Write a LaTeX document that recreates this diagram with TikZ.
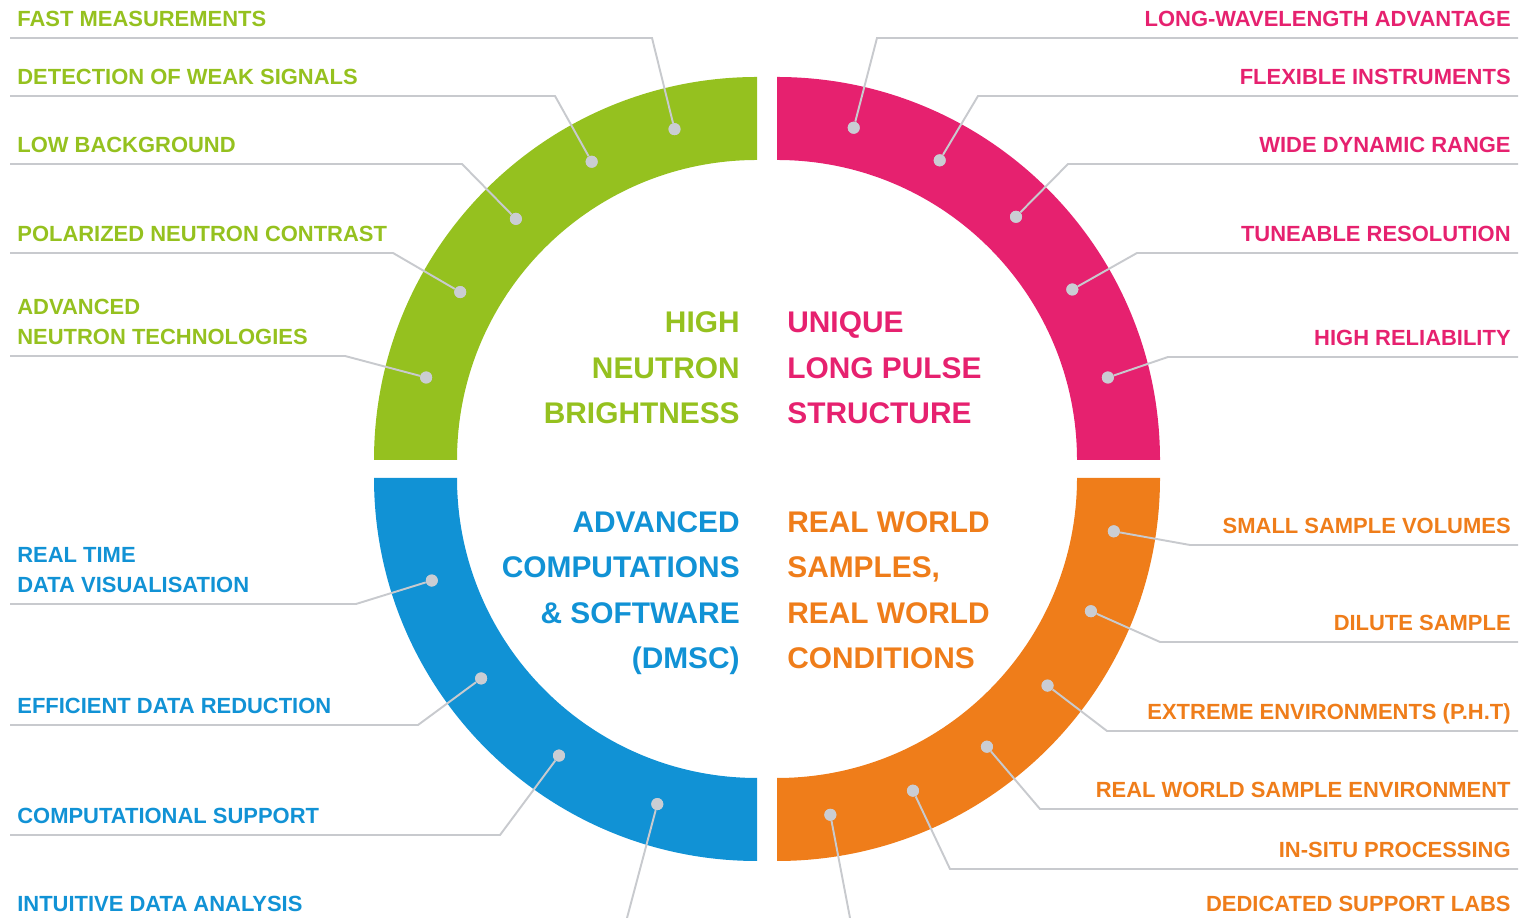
\documentclass[tikz,border=0pt]{standalone}
\usepackage{fontspec}
\setmainfont{Liberation Sans}
\usetikzlibrary{positioning,calc}
\definecolor{essgreen}{HTML}{95C11F}
\definecolor{esspink}{HTML}{E6216F}
\definecolor{essblue}{HTML}{1192D5}
\definecolor{essorange}{HTML}{EF7D1A}
\definecolor{leadgray}{HTML}{C8CACE}
\definecolor{knobgray}{HTML}{CACDD3}
\tikzset{
lbl/.style = {font=\bfseries\fontsize{12.5}{17.1}\selectfont, inner sep=0pt, text depth=0pt},
core/.style = {font=\bfseries\fontsize{17}{25.9}\selectfont, inner sep=0pt, text depth=0pt},
lead/.style = {draw=leadgray, line width=1.1pt},
knob/.style = {circle, fill=knobgray, inner sep=0pt, minimum size=0.24cm},
tmp/.style  = {coordinate}
}

\begin{document}
\begin{tikzpicture}[x=0.02cm, y=0.02cm]
  \useasboundingbox (0,0) rectangle (1520,918);
  \coordinate (cg) at (757,458);
  \coordinate (cp) at (777,458);
  \coordinate (cb) at (757,440);
  \coordinate (co) at (777,440);

  % quarter rings
  \fill [essgreen]  (374,458) arc [start angle=180, end angle=90, radius=383]
                    -- (757,758) arc [start angle=90, end angle=180, radius=300] -- cycle;
  \fill [esspink]   (777,841) arc [start angle=90, end angle=0, radius=383]
                    -- (1077,458) arc [start angle=0, end angle=90, radius=300] -- cycle;
  \fill [essblue]   (374,440) arc [start angle=180, end angle=270, radius=383]
                    -- (757,140) arc [start angle=270, end angle=180, radius=300] -- cycle;
  \fill [essorange] (777,57) arc [start angle=270, end angle=360, radius=383]
                    -- (1077,440) arc [start angle=0, end angle=-90, radius=300] -- cycle;

  % ring centre texts
  \node [core, essgreen, align=right, anchor=south east] (high) at (740,494)
        {HIGH\\NEUTRON\\BRIGHTNESS};
  \node [core, esspink, align=left, anchor=south west] (pulse) at (787,494)
        {UNIQUE\\LONG PULSE\\STRUCTURE};
  \node [core, essblue, align=right, anchor=south east] (dmsc) at (740,249)
        {ADVANCED\\COMPUTATIONS\\\& SOFTWARE\\(DMSC)};
  \node [core, essorange, align=left, anchor=south west] (world) at (787,249)
        {REAL WORLD\\SAMPLES,\\REAL WORLD\\CONDITIONS};

  % dots on the rings
  \node [knob] (dfast)      at ([shift={(104:341)}]cg)   {};
  \node [knob] (dweak)      at ([shift={(119:341)}]cg)   {};
  \node [knob] (dlowbg)     at ([shift={(135:341)}]cg)   {};
  \node [knob] (dpolar)     at ([shift={(150.5:341)}]cg) {};
  \node [knob] (dadvtech)   at ([shift={(166:341)}]cg)   {};
  \node [knob] (dlongwave)  at ([shift={(77:341)}]cp)    {};
  \node [knob] (dflexible)  at ([shift={(61.5:341)}]cp)  {};
  \node [knob] (dwidedyn)   at ([shift={(45.5:341)}]cp)  {};
  \node [knob] (dtuneable)  at ([shift={(30:341)}]cp)    {};
  \node [knob] (dreliab)    at ([shift={(14:341)}]cp)    {};
  \node [knob] (drealtime)  at ([shift={(197.5:341)}]cb) {};
  \node [knob] (deffic)     at ([shift={(216:341)}]cb)   {};
  \node [knob] (dcomput)    at ([shift={(234.5:341)}]cb) {};
  \node [knob] (dintuit)    at ([shift={(253:341)}]cb)   {};
  \node [knob] (dsmall)     at ([shift={(-9:341)}]co)    {};
  \node [knob] (ddilute)    at ([shift={(-23:341)}]co)   {};
  \node [knob] (dextreme)   at ([shift={(-37.5:341)}]co) {};
  \node [knob] (drealenv)   at ([shift={(-52:341)}]co)   {};
  \node [knob] (dinsitu)    at ([shift={(-66.5:341)}]co) {};
  \node [knob] (ddedic)     at ([shift={(-81:341)}]co)   {};

  % leader ends and bends
  \coordinate (efast) at (10,880);     \coordinate (bfast) at (652,880);
  \coordinate (eweak) at (10,822);     \coordinate (bweak) at (555,822);
  \coordinate (elowbg) at (10,754);    \coordinate (blowbg) at (462,754);
  \coordinate (epolar) at (10,665);    \coordinate (bpolar) at (393,665);
  \coordinate (eadvtech) at (10,562);  \coordinate (badvtech) at (345,562);
  \coordinate (elongwave) at (1518,880); \coordinate (blongwave) at (877,880);
  \coordinate (eflexible) at (1518,822); \coordinate (bflexible) at (978,822);
  \coordinate (ewidedyn) at (1518,754);  \coordinate (bwidedyn) at (1068,754);
  \coordinate (etuneable) at (1518,665); \coordinate (btuneable) at (1137,665);
  \coordinate (ereliab) at (1518,561);   \coordinate (breliab) at (1168,561);
  \coordinate (erealtime) at (10,314); \coordinate (brealtime) at (356,314);
  \coordinate (eeffic) at (10,193);    \coordinate (beffic) at (418,193);
  \coordinate (ecomput) at (10,83);    \coordinate (bcomput) at (500,83);
  \coordinate (eintuit) at (627,0);
  \coordinate (esmall) at (1518,373);   \coordinate (bsmall) at (1190,373);
  \coordinate (edilute) at (1518,276);  \coordinate (bdilute) at (1160,276);
  \coordinate (eextreme) at (1518,187); \coordinate (bextreme) at (1107,187);
  \coordinate (erealenv) at (1518,109); \coordinate (brealenv) at (1040,109);
  \coordinate (einsitu) at (1518,49);   \coordinate (binsitu) at (950,49);
  \coordinate (ededic) at (850,0);

  \draw [lead] (efast) -- (bfast) -- (dfast);
  \draw [lead] (eweak) -- (bweak) -- (dweak);
  \draw [lead] (elowbg) -- (blowbg) -- (dlowbg);
  \draw [lead] (epolar) -- (bpolar) -- (dpolar);
  \draw [lead] (eadvtech) -- (badvtech) -- (dadvtech);
  \draw [lead] (elongwave) -- (blongwave) -- (dlongwave);
  \draw [lead] (eflexible) -- (bflexible) -- (dflexible);
  \draw [lead] (ewidedyn) -- (bwidedyn) -- (dwidedyn);
  \draw [lead] (etuneable) -- (btuneable) -- (dtuneable);
  \draw [lead] (ereliab) -- (breliab) -- (dreliab);
  \draw [lead] (erealtime) -- (brealtime) -- (drealtime);
  \draw [lead] (eeffic) -- (beffic) -- (deffic);
  \draw [lead] (ecomput) -- (bcomput) -- (dcomput);
  \draw [lead] (eintuit) -- (dintuit);
  \draw [lead] (esmall) -- (bsmall) -- (dsmall);
  \draw [lead] (edilute) -- (bdilute) -- (ddilute);
  \draw [lead] (eextreme) -- (bextreme) -- (dextreme);
  \draw [lead] (erealenv) -- (brealenv) -- (drealenv);
  \draw [lead] (einsitu) -- (binsitu) -- (dinsitu);
  \draw [lead] (ededic) -- (ddedic);

  % knobs drawn again over the leaders
  \foreach \k in {dfast,dweak,dlowbg,dpolar,dadvtech,dlongwave,dflexible,dwidedyn,dtuneable,dreliab,
                  drealtime,deffic,dcomput,dintuit,dsmall,ddilute,dextreme,drealenv,dinsitu,ddedic}
    \fill [knobgray] (\k) circle [radius=6];

  % labels
  \node [lbl, essgreen, anchor=south west] (fast)    at (17,891) {FAST MEASUREMENTS};
  \node [lbl, essgreen, anchor=south west] (weak)    at (17,833) {DETECTION OF WEAK SIGNALS};
  \node [lbl, essgreen, anchor=south west] (lowbg)   at (17,765) {LOW BACKGROUND};
  \node [lbl, essgreen, anchor=south west] (polar)   at (17,676) {POLARIZED NEUTRON CONTRAST};
  \node [lbl, essgreen, anchor=south west, align=left] (advtech) at (17,573)
        {ADVANCED\\NEUTRON TECHNOLOGIES};
  \node [lbl, esspink, anchor=south east] (longwave) at (1511,891) {LONG-WAVELENGTH ADVANTAGE};
  \node [lbl, esspink, anchor=south east] (flexible) at (1511,833) {FLEXIBLE INSTRUMENTS};
  \node [lbl, esspink, anchor=south east] (widedyn)  at (1511,765) {WIDE DYNAMIC RANGE};
  \node [lbl, esspink, anchor=south east] (tuneable) at (1511,676) {TUNEABLE RESOLUTION};
  \node [lbl, esspink, anchor=south east] (reliab)   at (1511,572) {HIGH RELIABILITY};
  \node [lbl, essblue, anchor=south west, align=left] (realtime) at (17,325)
        {REAL TIME\\DATA VISUALISATION};
  \node [lbl, essblue, anchor=south west] (effic)    at (17,204) {EFFICIENT DATA REDUCTION};
  \node [lbl, essblue, anchor=south west] (comput)   at (17,94)  {COMPUTATIONAL SUPPORT};
  \node [lbl, essblue, anchor=south west] (intuit)   at (17,6)   {INTUITIVE DATA ANALYSIS};
  \node [lbl, essorange, anchor=south east] (small)   at (1511,384) {SMALL SAMPLE VOLUMES};
  \node [lbl, essorange, anchor=south east] (dilute)  at (1511,287) {DILUTE SAMPLE};
  \node [lbl, essorange, anchor=south east] (extreme) at (1511,198) {EXTREME ENVIRONMENTS (P.H.T)};
  \node [lbl, essorange, anchor=south east] (realenv) at (1511,120) {REAL WORLD SAMPLE ENVIRONMENT};
  \node [lbl, essorange, anchor=south east] (insitu)  at (1511,60)  {IN-SITU PROCESSING};
  \node [lbl, essorange, anchor=south east] (dedic)   at (1511,6)   {DEDICATED SUPPORT LABS};
\end{tikzpicture}
\end{document}
